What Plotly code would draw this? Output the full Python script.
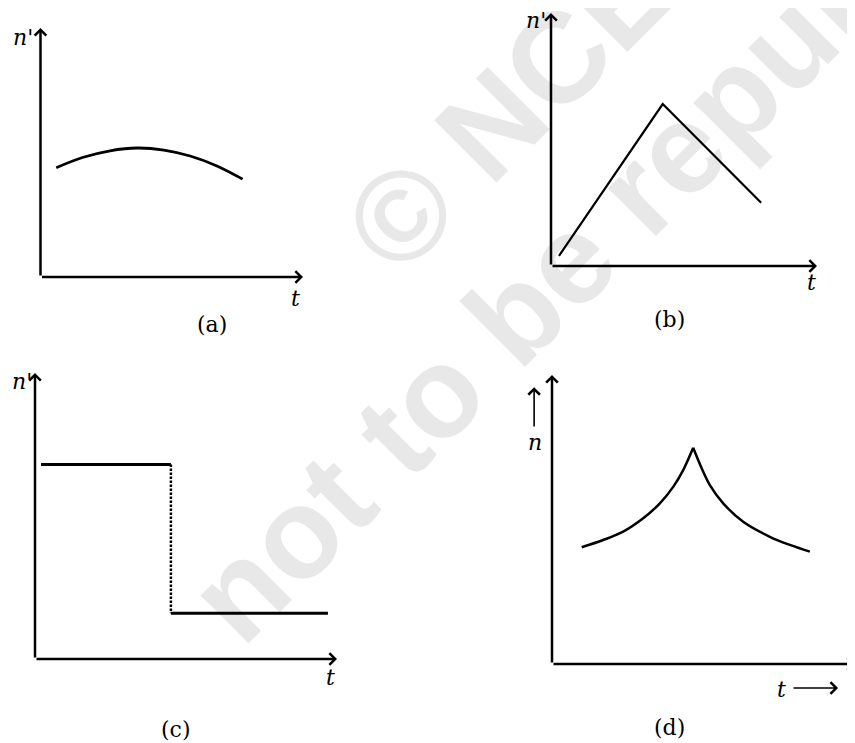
import plotly.graph_objects as go

W, H = 855, 743
OFF = 8  # default page margin around the plot div
FW, FH = W - OFF, H - OFF

# panel (a): slow rise then fall
t_a = [0.6, 1.6, 2.65, 3.7, 4.7, 5.7, 6.7, 7.7]
n_a = [4.39, 4.8, 5.07, 5.18, 5.1, 4.86, 4.47, 3.93]

# panel (b): straight rise then straight fall
t_b = [0.3, 4.2, 7.9]
n_b = [0.4, 6.4, 2.5]

# panel (c): step down
t_c_high = [0.2, 4.5]
n_c_high = [6.8, 6.8]
t_c_drop = [4.5, 4.5]
n_c_drop = [6.8, 1.6]
t_c_low = [4.5, 9.7]
n_c_low = [1.6, 1.6]

# panel (d): cusp at the top
t_d_rise = [0.98, 1.69, 2.35, 3.01, 3.56, 4.0, 4.33, 4.66]
n_d_rise = [4.04, 4.29, 4.58, 5.04, 5.56, 6.13, 6.71, 7.48]
t_d_fall = [4.66, 4.94, 5.21, 5.65, 6.31, 7.19, 7.85, 8.51]
n_d_fall = [7.48, 6.77, 6.19, 5.56, 4.92, 4.4, 4.12, 3.89]

panel_names = ['(a)', '(b)', '(c)', '(d)']
y_labels = ["<i>n</i>'", "<i>n</i>'", "<i>n</i>'", "<i>n</i>"]
watermark = ['© NCERT', 'not to be republished']

# window pixel positions of each panel: origin x, arrow tip x, origin y, arrow tip y
boxes = [(40.5, 303, 277, 28), (551, 817, 266, 13),
         (35, 337, 659, 373), (552, 855, 664, 375)]
X_RANGE = [-0.8, 10]
Y_RANGE = [-2.6, 10.15]

SERIF = 'DejaVu Serif'

fig = go.Figure()


def refs(k):
    return ('x', 'y') if k == 1 else ('x%d' % k, 'y%d' % k)


def line(x, y, k, width=2.5, dash=None):
    xr, yr = refs(k)
    fig.add_trace(go.Scatter(
        x=x, y=y, mode='lines', xaxis=xr, yaxis=yr, showlegend=False, hoverinfo='skip',
        line=dict(color='black', width=width, dash=dash,
                  shape='spline' if len(x) > 3 else 'linear')))


line(t_a, n_a, 1, 2.8)
line(t_b, n_b, 2, 2.2)
line(t_c_high, n_c_high, 3, 3)
line(t_c_drop, n_c_drop, 3, 2.5, '2.5px,1.5px')
line(t_c_low, n_c_low, 3, 3)
line(t_d_rise, n_d_rise, 4, 2.5)
line(t_d_fall, n_d_fall, 4, 2.5)

layout = dict(width=FW, height=FH, margin=dict(l=0, r=0, t=0, b=0),
              paper_bgcolor='white', plot_bgcolor='white', showlegend=False)
for k, (ox, tx, oy, ty) in enumerate(boxes, start=1):
    sx = (tx - ox) / 10
    sy = (oy - ty) / 10
    xr, yr = refs(k)
    xdom = [(ox + sx * X_RANGE[0] - OFF) / FW, min((ox + sx * X_RANGE[1] - OFF) / FW, 1)]
    ydom = [1 - (oy - sy * Y_RANGE[0] - OFF) / FH, min(1 - (oy - sy * Y_RANGE[1] - OFF) / FH, 1)]
    layout['xaxis' + xr[1:]] = dict(domain=xdom, range=X_RANGE, visible=False, anchor=yr)
    layout['yaxis' + yr[1:]] = dict(domain=ydom, range=Y_RANGE, visible=False, anchor=xr)
fig.update_layout(**layout)

# axes drawn as arrows
for k in range(1, 5):
    xr, yr = refs(k)
    for tx, ty in [(10, 0), (0, 10)]:
        fig.add_annotation(x=tx, y=ty, ax=0, ay=0, xref=xr, yref=yr, axref=xr, ayref=yr,
                           text='', showarrow=True, arrowhead=4, arrowsize=0.9,
                           arrowwidth=2.5, arrowcolor='black')

# labels: (y label pos, t label pos, panel name pos) in each panel's units
label_pos = [((-0.67, 9.6), (9.7, -0.88), (6.53, -1.89)),
             ((-0.56, 9.72), (9.81, -0.67), (4.47, -2.13)),
             ((-0.43, 9.72), (9.77, -0.66), (4.67, -2.45)),
             ((-0.56, 7.68), (7.59, -0.87), (3.89, -2.18))]
for k, ((nx, ny), (tx, ty), (px, py)) in enumerate(label_pos, start=1):
    xr, yr = refs(k)
    fig.add_annotation(x=nx, y=ny, xref=xr, yref=yr, text=y_labels[k - 1], showarrow=False,
                       font=dict(family=SERIF, size=22, color='black'))
    fig.add_annotation(x=tx, y=ty, xref=xr, yref=yr, text='<i>t</i>', showarrow=False,
                       font=dict(family=SERIF, size=22, color='black'))
    fig.add_annotation(x=px, y=py, xref=xr, yref=yr, text=panel_names[k - 1], showarrow=False,
                       font=dict(family=SERIF, size=22, color='black'))

# small direction arrows next to n and t in panel (d)
fig.add_annotation(x=-0.59, y=9.58, ax=-0.59, ay=8.17, xref='x4', yref='y4',
                   axref='x4', ayref='y4', text='', showarrow=True, arrowhead=4,
                   arrowsize=1.4, arrowwidth=1.6, arrowcolor='black')
fig.add_annotation(x=9.44, y=-0.83, ax=7.92, ay=-0.83, xref='x4', yref='y4',
                   axref='x4', ayref='y4', text='', showarrow=True, arrowhead=4,
                   arrowsize=1.4, arrowwidth=1.6, arrowcolor='black')

# watermark, kept below the drawing
for text, cx, cy in zip(watermark, [560.5, 662.5], [38.5, 149.5]):
    px, py = (cx - OFF) / FW, 1 - (cy - OFF) / FH
    fig.add_shape(type='rect', xref='paper', yref='paper',
                  x0=px - 0.001, x1=px + 0.001, y0=py - 0.001, y1=py + 0.001,
                  line_width=0, fillcolor='rgba(0,0,0,0)', layer='below',
                  label=dict(text=text, textangle=-45, textposition='middle center',
                             font=dict(family='Liberation Sans', size=128, weight='bold',
                                       color='#e8e8e8')))

fig.write_html('out.html')
